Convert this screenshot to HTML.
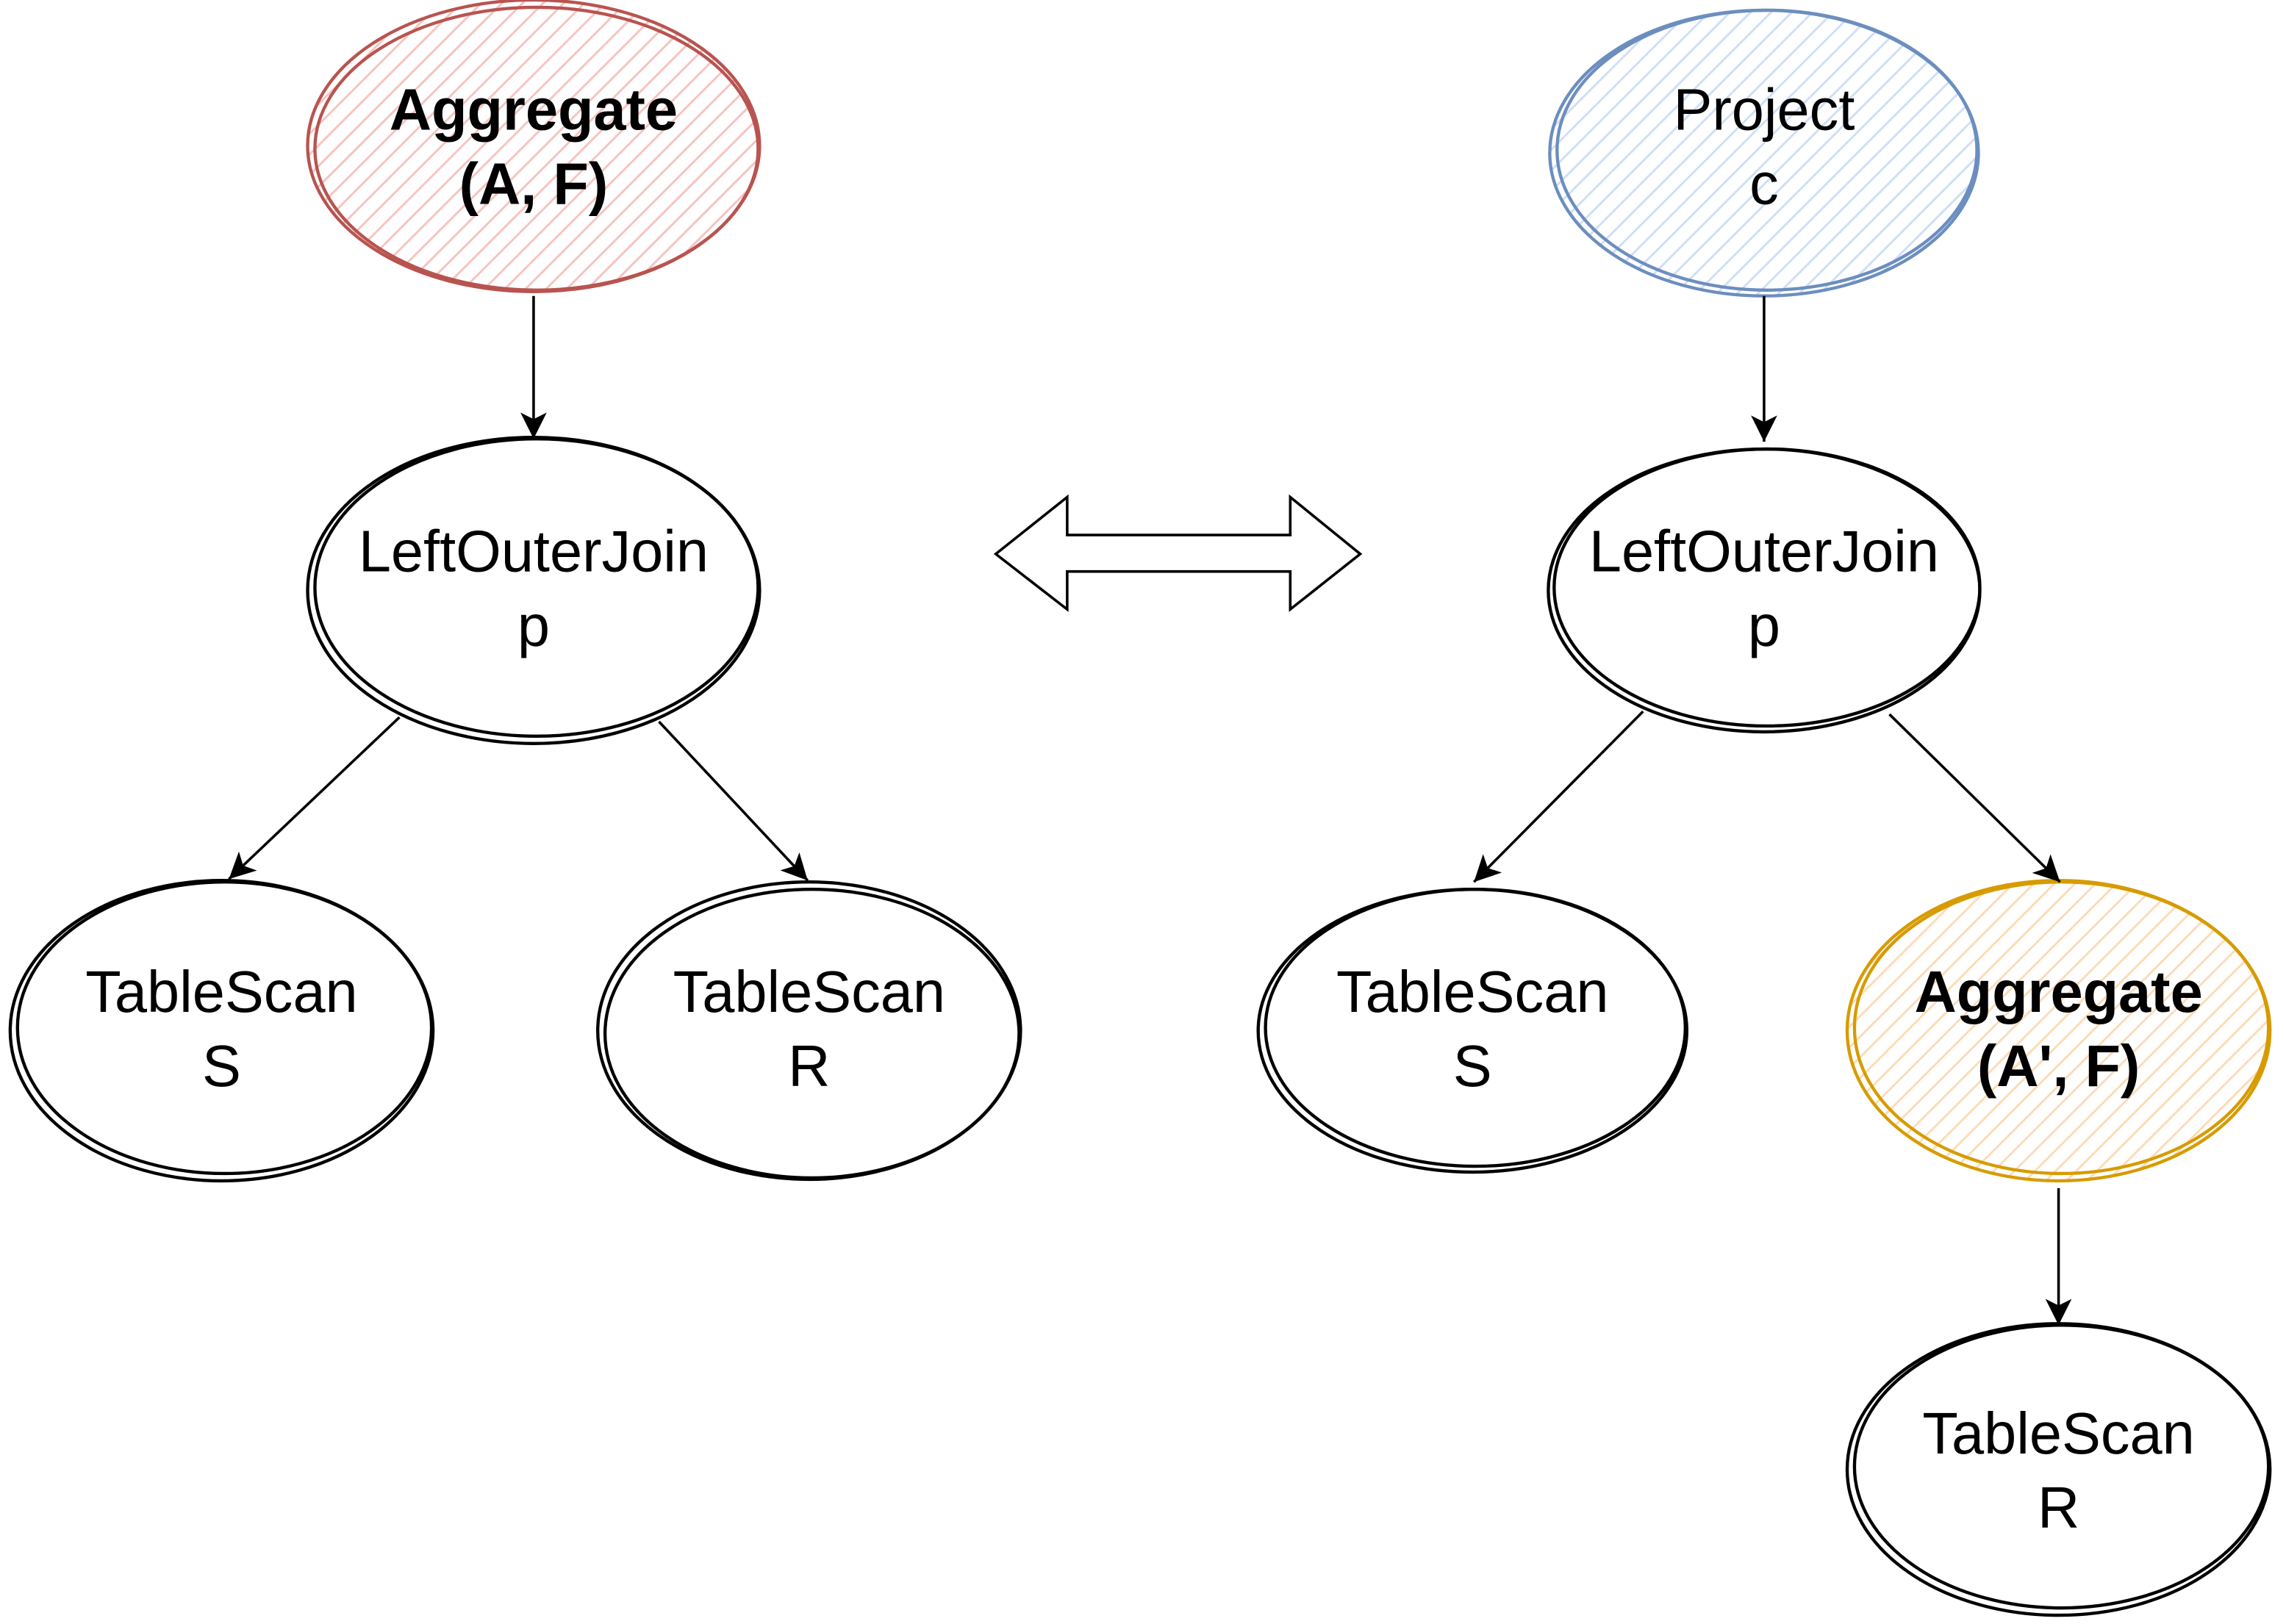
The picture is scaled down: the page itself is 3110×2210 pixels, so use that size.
<!DOCTYPE html>
<html><head><meta charset="utf-8"><style>
html,body{margin:0;padding:0;background:#fff;width:3110px;height:2210px;overflow:hidden}
svg{display:block}
text{font-family:"Liberation Sans",sans-serif;font-size:40px;text-anchor:middle;fill:#000}
</style></head><body>
<svg width="3110" height="2210" viewBox="0 0 1568 1114" preserveAspectRatio="none" xmlns="http://www.w3.org/2000/svg">
<defs>
<pattern id="hr" width="10" height="10" patternUnits="userSpaceOnUse" patternTransform="rotate(-45)"><rect width="10" height="10" fill="#fff"/><line x1="0" y1="5" x2="10" y2="5" stroke="#f6c4c1" stroke-width="1.5"/></pattern>
<pattern id="hb" width="10" height="10" patternUnits="userSpaceOnUse" patternTransform="rotate(-45)"><rect width="10" height="10" fill="#fff"/><line x1="0" y1="5" x2="10" y2="5" stroke="#cfdff5" stroke-width="1.5"/></pattern>
<pattern id="ho" width="10" height="10" patternUnits="userSpaceOnUse" patternTransform="rotate(-45)"><rect width="10" height="10" fill="#fff"/><line x1="0" y1="5" x2="10" y2="5" stroke="#fcdcb8" stroke-width="1.5"/></pattern>
<marker id="ah" markerWidth="18" markerHeight="18" refX="16" refY="8" orient="auto" markerUnits="userSpaceOnUse" viewBox="0 0 16 16"><path d="M0,0 L16,8 L0,16 L4,8 Z" fill="#000"/></marker>
</defs>
<g stroke-width="2.2" fill="none">
<ellipse cx="366" cy="100" rx="155" ry="100" fill="url(#hr)" stroke="#b85450"/>
<ellipse cx="368" cy="102" rx="152" ry="97" stroke="#b85450"/>
<ellipse cx="1210" cy="105" rx="147" ry="98" fill="url(#hb)" stroke="#6c8ebf"/>
<ellipse cx="1212" cy="103" rx="144" ry="96" stroke="#6c8ebf"/>
<ellipse cx="1412" cy="707" rx="145" ry="103" fill="url(#ho)" stroke="#d79b00"/>
<ellipse cx="1414" cy="705" rx="142" ry="100" stroke="#d79b00"/>
<g stroke="#000">
<ellipse cx="366" cy="405" rx="155" ry="105"/><ellipse cx="368" cy="403" rx="152" ry="102"/>
<ellipse cx="152" cy="707" rx="145" ry="103"/><ellipse cx="154" cy="705" rx="142" ry="100"/>
<ellipse cx="555" cy="707" rx="145" ry="102"/><ellipse cx="557" cy="709" rx="142" ry="99"/>
<ellipse cx="1210" cy="405" rx="148" ry="97"/><ellipse cx="1212" cy="403" rx="146" ry="95"/>
<ellipse cx="1010" cy="707" rx="147" ry="97"/><ellipse cx="1012" cy="705" rx="144" ry="95"/>
<ellipse cx="1412" cy="1008" rx="145" ry="100"/><ellipse cx="1414" cy="1006" rx="142" ry="97"/>
</g>
<g stroke="#000" stroke-width="1.8" marker-end="url(#ah)">
<line x1="366" y1="203" x2="366" y2="301"/>
<line x1="274" y1="492" x2="157" y2="603"/>
<line x1="452" y1="495" x2="554" y2="604"/>
<line x1="1210" y1="203" x2="1210" y2="303"/>
<line x1="1127" y1="488" x2="1011" y2="605"/>
<line x1="1296" y1="490" x2="1413" y2="605"/>
<line x1="1412" y1="815" x2="1412" y2="909"/>
</g>
<polygon points="683,380 732,341 732,367 885,367 885,341 933,380 885,418 885,392 732,392 732,418" fill="#fff" stroke="#000" stroke-width="1.8"/>
</g>
<text x="366" y="89" font-weight="bold">Aggregate</text><text x="366" y="140" font-weight="bold">(A, F)</text>
<text x="1210" y="89">Project</text><text x="1210" y="140">c</text>
<text x="366" y="392">LeftOuterJoin</text><text x="366" y="443">p</text>
<text x="1210" y="392">LeftOuterJoin</text><text x="1210" y="443">p</text>
<text x="152" y="694">TableScan</text><text x="152" y="745">S</text>
<text x="555" y="694">TableScan</text><text x="555" y="745">R</text>
<text x="1010" y="694">TableScan</text><text x="1010" y="745">S</text>
<text x="1412" y="694" font-weight="bold">Aggregate</text><text x="1412" y="745" font-weight="bold">(A', F)</text>
<text x="1412" y="997">TableScan</text><text x="1412" y="1048">R</text>
</svg>
</body></html>
